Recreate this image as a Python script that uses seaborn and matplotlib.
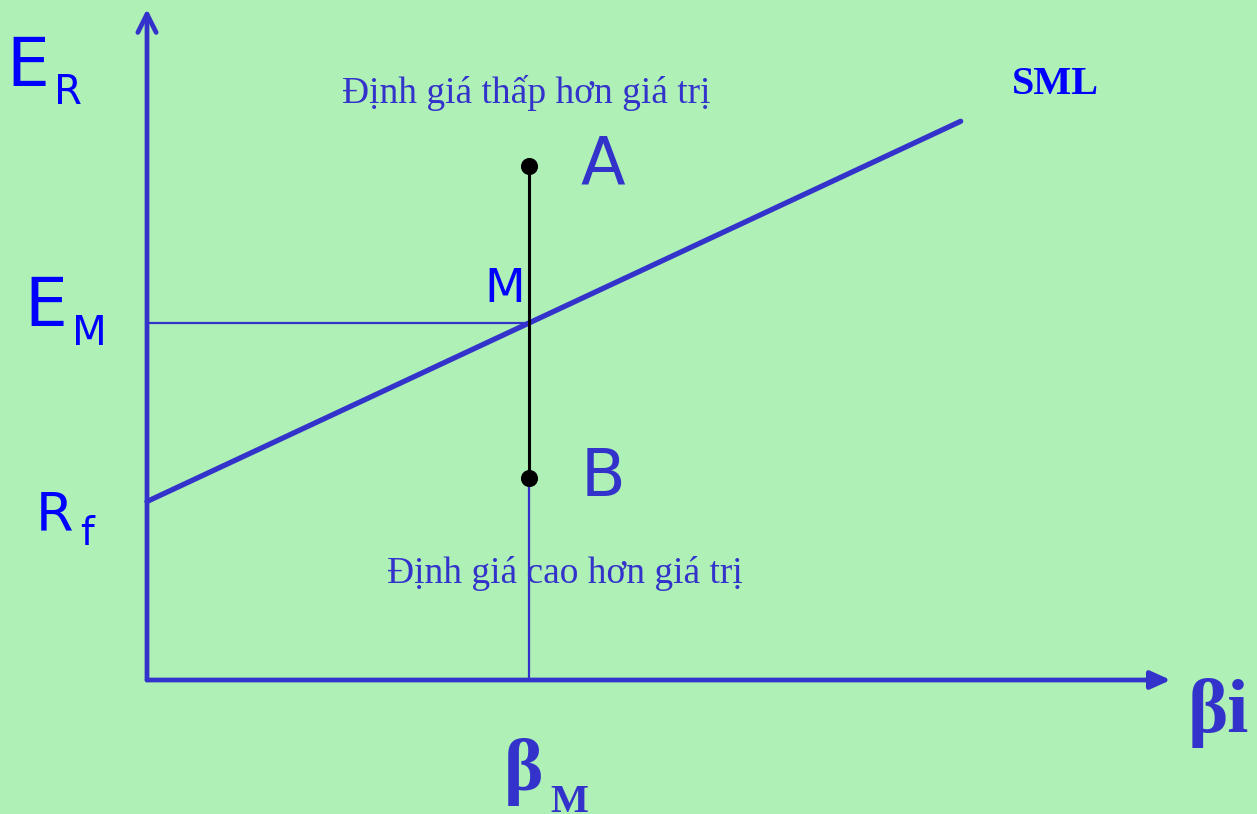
import matplotlib
matplotlib.use("Agg")
import matplotlib.pyplot as plt
import seaborn as sns
import pandas as pd

# ---- data ----
rf = 5.0            # risk-free rate
em = 10.0           # expected market return
beta_m = 1.0        # market beta
sml_beta = [0.0, 2.13]
sml_ret = [5.0, 15.65]
point_labels = ["A", "B"]
point_beta = [1.0, 1.0]
point_ret = [14.4, 5.65]
x_axis_end = 2.68
y_axis_end = 18.8

text_over = "Định giá thấp hơn giá trị"
text_under = "Định giá cao hơn giá trị"

BG = "#aef0b5"
LINE = "#3333cc"
PURE = "#0000ff"

sns.set_theme(style="white")
plt.rcParams["font.family"] = ["DejaVu Sans"]

fig = plt.figure(figsize=(12.57, 8.14), dpi=100, facecolor=BG)
ax = fig.add_axes([0, 0, 1, 1])
ax.set_facecolor(BG)
px = 382.0
py = 35.7
ax.set_xlim(-147 / px, (1257 - 147) / px)
ax.set_ylim(-134 / py, 680 / py)
ax.axis("off")

# axes arrows
ax.annotate("", xy=(x_axis_end, 0), xytext=(0, 0),
            arrowprops=dict(arrowstyle="-|>,head_length=1.0,head_width=0.45",
                            color=LINE, lw=3.4, shrinkA=0, shrinkB=0))
ax.annotate("", xy=(0, y_axis_end), xytext=(0, 0),
            arrowprops=dict(arrowstyle="->,head_length=1.1,head_width=0.55",
                            color=LINE, lw=3.4, shrinkA=0, shrinkB=0))

# guide lines
ax.plot([0, beta_m], [em, em], color=LINE, lw=1.6, solid_capstyle="butt")
ax.plot([beta_m, beta_m], [0, min(point_ret)], color=LINE, lw=1.6, solid_capstyle="butt")

# SML
sml = pd.DataFrame({"beta": sml_beta, "ret": sml_ret})
sns.lineplot(data=sml, x="beta", y="ret", color=LINE, lw=3.8, ax=ax)

# A-B segment and points
pts = pd.DataFrame({"beta": point_beta, "ret": point_ret, "lab": point_labels})
ax.plot(point_beta, point_ret, color="black", lw=2.2, zorder=3)
sns.scatterplot(data=pts, x="beta", y="ret", color="black", s=130, ax=ax,
                zorder=4, edgecolor="black", legend=False)
ax.set_xlabel("")
ax.set_ylabel("")

for b, r, lab in zip(point_beta, point_ret, point_labels):
    ax.text(b + 0.135, r, lab, fontsize=47, color=LINE, va="center", ha="left")

ax.text(beta_m - 0.01, em + 0.3, "M", fontsize=34, color=PURE, ha="right", va="bottom")

# y-axis labels
def sub_label(xf, yf, main, sub, main_fs, sub_fs, dx, dy, color):
    ax.text(xf, yf, main, transform=fig.transFigure, fontsize=main_fs,
            color=color, ha="left", va="baseline")
    ax.text(xf + dx, yf - dy, sub, transform=fig.transFigure, fontsize=sub_fs,
            color=color, ha="left", va="baseline")

sub_label(6 / 1257, 1 - 86 / 814, "E", "R", 49, 29, 48 / 1257, 18 / 814, PURE)
sub_label(24 / 1257, 1 - 326 / 814, "E", "M", 49, 29, 48 / 1257, 19 / 814, PURE)
sub_label(36 / 1257, 1 - 530 / 814, "R", "f", 39, 28, 44 / 1257, 15 / 814, PURE)

serif = ["Liberation Serif", "DejaVu Serif"]
ax.text(1012 / 1257, 1 - 94 / 814, "SML", transform=fig.transFigure,
        fontsize=29, fontweight="bold", color=PURE, family=serif, va="baseline")
ax.text(526 / 1257, 1 - 103 / 814, text_over, transform=fig.transFigure,
        fontsize=27, color=LINE, family=serif, ha="center", va="baseline")
ax.text(565 / 1257, 1 - 583 / 814, text_under, transform=fig.transFigure,
        fontsize=27, color=LINE, family=serif, ha="center", va="baseline")

# beta labels
ax.text(504 / 1257, 1 - 790 / 814, "β", transform=fig.transFigure,
        fontsize=54, fontweight="bold", color=LINE, family=serif, va="baseline")
ax.text(550 / 1257, 1 - 812 / 814, "M", transform=fig.transFigure,
        fontsize=29, fontweight="bold", color=LINE, family=serif, va="baseline")
ax.text(1188 / 1257, 1 - 732 / 814, "βi", transform=fig.transFigure,
        fontsize=55, fontweight="bold", color=LINE, family=serif, va="baseline")

fig.savefig("out.png", dpi=100, facecolor=BG)
